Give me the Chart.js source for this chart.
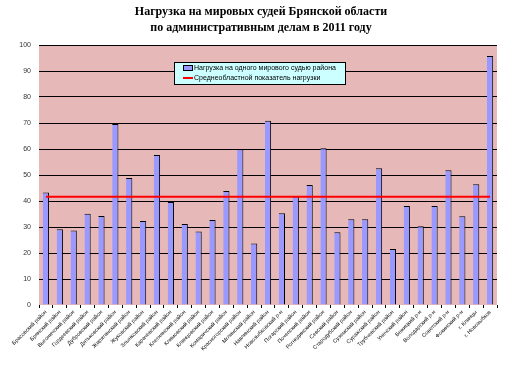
<!DOCTYPE html>
<html lang="ru">
<head>
    <meta charset="UTF-8">
    <title>Нагрузка на мировых судей</title>
    <script src="https://cdn.jsdelivr.net/npm/chart.js"></script>
    <style>
        html, body { margin: 0; padding: 0; background: #fff; }
        .chart-box { position: relative; width: 530px; height: 365px; }
    </style>
</head>
<body>
    <div class="chart-box">
        <canvas id="loadChart" width="530" height="365"></canvas>
    </div>

    <script>
        // Районы (подписи по оси X)
        const districts = [
            'Брасовский район', 'Брянский район', 'Выгоничский район', 'Гордеевский район',
            'Дубровский район', 'Дятьковский район', 'Жирятинский район', 'Жуковский район',
            'Злынковский район', 'Карачевский район', 'Клетнянский район', 'Климовский район',
            'Клинцовский район', 'Комаричский район', 'Красногорский район', 'Мглинский район',
            'Навлинский район', 'Новозыбковский р-н', 'Погарский район', 'Почепский район',
            'Рогнединский район', 'Севский район', 'Стародубский район', 'Суземский район',
            'Суражский район', 'Трубчевский район', 'Унечский район', 'Бежицкий р-н',
            'Володарский р-н', 'Советский р-н', 'Фокинский р-н', 'г. Клинцы', 'г. Новозыбков'
        ];

        // Нагрузка на одного мирового судью района
        const loadPerJudge = [
            43.3, 29.1, 28.7, 35.1, 34.2, 69.6, 48.8, 32.3, 57.7, 39.6, 31.2,
            28.3, 32.7, 43.8, 59.9, 23.7, 70.9, 35.3, 41.7, 46.2, 60.3, 28.0,
            33.0, 33.0, 52.6, 21.5, 38.1, 30.3, 38.1, 51.8, 34.1, 46.4, 95.8
        ];

        // Среднеобластной показатель нагрузки
        const regionAverage = [
            41.6, 41.6, 41.6, 41.6, 41.6, 41.6, 41.6, 41.6, 41.6, 41.6, 41.6,
            41.6, 41.6, 41.6, 41.6, 41.6, 41.6, 41.6, 41.6, 41.6, 41.6, 41.6,
            41.6, 41.6, 41.6, 41.6, 41.6, 41.6, 41.6, 41.6, 41.6, 41.6, 41.6
        ];

        const yTicks = [0, 10, 20, 30, 40, 50, 60, 70, 80, 90, 100];

        const titleLines = [
            'Нагрузка на мировых судей Брянской области',
            'по административным делам в 2011 году'
        ];

        // pink plot background, title and the legend box inside the plot
        const plotDecor = {
            id: 'plotDecor',
            beforeDraw(chart) {
                const { ctx, chartArea: a } = chart;
                ctx.save();
                ctx.fillStyle = '#E6B9B8';
                ctx.fillRect(a.left, a.top, a.right - a.left, a.bottom - a.top);

                ctx.fillStyle = '#000';
                ctx.font = 'bold 12px "Liberation Serif", "Times New Roman", serif';
                ctx.textAlign = 'center';
                ctx.textBaseline = 'middle';
                ctx.fillText(titleLines[0], 261, 12);
                ctx.fillText(titleLines[1], 261, 28);
                ctx.restore();
            },
            afterDatasetsDraw(chart) {
                const ctx = chart.ctx;
                const x = 174, y = 62, w = 171, h = 22;
                ctx.save();
                ctx.fillStyle = '#CCFFFF';
                ctx.fillRect(x, y, w, h);
                ctx.strokeStyle = '#000';
                ctx.lineWidth = 1;
                ctx.strokeRect(x + 0.5, y + 0.5, w, h);

                ctx.fillStyle = '#9999FF';
                ctx.fillRect(x + 9, y + 3, 9, 5);
                ctx.strokeRect(x + 9.5, y + 3.5, 9, 5);

                ctx.strokeStyle = '#FF0000';
                ctx.lineWidth = 2;
                ctx.beginPath();
                ctx.moveTo(x + 9, y + 16);
                ctx.lineTo(x + 19, y + 16);
                ctx.stroke();

                ctx.fillStyle = '#000';
                ctx.font = '7px "Liberation Sans", Arial, sans-serif';
                ctx.textBaseline = 'middle';
                ctx.fillText(chart.data.datasets[0].label, x + 20, y + 6);
                ctx.fillText(chart.data.datasets[1].label, x + 20, y + 16);
                ctx.restore();
            }
        };

        const ctx = document.getElementById('loadChart').getContext('2d');
        new Chart(ctx, {
            data: {
                labels: districts,
                datasets: [
                    {
                        type: 'bar',
                        label: 'Нагрузка на одного мирового судью района',
                        data: loadPerJudge,
                        backgroundColor: '#9999FF',
                        borderColor: '#000000',
                        borderWidth: { top: 1, right: 1, left: 0, bottom: 0 },
                        barPercentage: 0.45,
                        categoryPercentage: 1,
                        order: 2
                    },
                    {
                        type: 'line',
                        label: 'Среднеобластной показатель нагрузки',
                        data: regionAverage,
                        borderColor: '#FF0000',
                        borderWidth: 2,
                        pointRadius: 0,
                        fill: false,
                        order: 1
                    }
                ]
            },
            options: {
                responsive: false,
                animation: false,
                layout: { padding: { left: 0, right: 33, top: 45, bottom: 0 } },
                plugins: {
                    legend: { display: false },
                    tooltip: { enabled: false },
                    title: { display: false }
                },
                scales: {
                    x: {
                        offset: true,
                        border: { display: false },
                        grid: { display: true, drawOnChartArea: false, offset: true, color: '#000', tickLength: 3 },
                        ticks: {
                            autoSkip: false,
                            minRotation: 45,
                            maxRotation: 45,
                            color: '#111',
                            font: { family: '"Liberation Sans", Arial, sans-serif', size: 5.5 },
                            padding: 1
                        },
                        afterFit(scale) { scale.height = 60; }
                    },
                    y: {
                        min: 0,
                        max: 100,
                        border: { display: false },
                        grid: {
                            color: (c) => c.tick && c.tick.value === 0 ? 'rgba(0,0,0,0)' : '#000',
                            drawTicks: false
                        },
                        afterBuildTicks(scale) { scale.ticks = yTicks.map(v => ({ value: v })); },
                        ticks: {
                            color: '#333',
                            padding: 8,
                            font: { family: '"Liberation Sans", Arial, sans-serif', size: 7 }
                        },
                        afterFit(scale) { scale.width = 39; }
                    }
                }
            },
            plugins: [plotDecor]
        });
    </script>
</body>
</html>
